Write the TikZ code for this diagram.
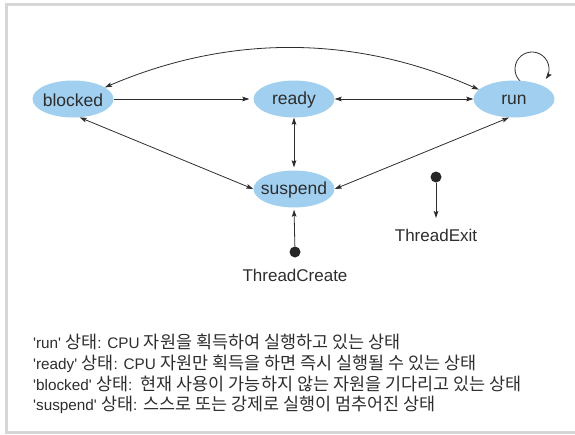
\documentclass[tikz,border=0pt]{standalone}
\usepackage{fontspec}
\setmainfont{Liberation Sans}
\newfontfamily\kr{Noto Sans CJK KR}[Scale=1.14]
\usetikzlibrary{shapes.geometric,arrows.meta}
\definecolor{stfill}{RGB}{160,207,240}
\definecolor{ink}{RGB}{45,45,45}
\definecolor{framegray}{RGB}{214,214,214}
\newcommand{\q}{\textquotesingle}
\begin{document}
\begin{tikzpicture}[x=1pt,y=-1pt,
  state/.style={ellipse,fill=stfill,minimum width=81pt,minimum height=37pt,inner sep=0pt,
    label={[font=\fontsize{17.5}{20}\selectfont,text=ink,inner sep=0pt,yshift=-1pt]center:#1}},
  tip/.tip={Stealth[length=7pt,width=4.6pt,inset=1.2pt]},
  conn/.style={draw=ink,line width=0.8pt,tip-tip},
  oneway/.style={draw=ink,line width=0.8pt,-tip},
  dotnode/.style={circle,fill=black!85,minimum size=11pt,inner sep=0pt},
  lbl/.style={font=\fontsize{17}{20}\selectfont,text=ink,inner sep=0pt},
  note/.style={font=\fontsize{15.3}{20}\selectfont,text=ink,inner sep=0pt,anchor=base west}]
\useasboundingbox (0,0) rectangle (575,434);
\draw[framegray,line width=3pt] (580,4.5) -- (6.5,4.5) -- (6.5,432.8) -- (580,432.8);
% self loop (drawn first, below the ellipse)
\coordinate (loopc) at (532,69);
\draw[oneway] ([shift={(95:17)}]loopc) arc[start angle=95,end angle=396,radius=17];
% states
\node[state=blocked] (blocked) at (73,99) {};
\node[state=ready] (ready) at (294,99) {};
\node[state=run] (run) at (514,99) {};
\node[state=suspend] (suspend) at (294,189) {};
% connectors
\draw[conn] (blocked.20) .. controls +(124,-53) and +(-124,-55) .. (run.165);
\draw[oneway,shorten >=4pt] (blocked) -- (ready);
\draw[conn] (ready) -- (run);
\draw[conn,shorten >=3pt] (ready) -- (suspend);
\draw[conn] (blocked.-70) -- (suspend.west);
\draw[conn] (run.-105) -- (suspend.east);
% create / exit
\node[dotnode] (tc) at (295,252) {};
\draw[oneway,shorten >=2pt] (tc) -- (suspend.south);
\node[lbl] (tclabel) at (295,275) {ThreadCreate};
\node[dotnode] (te) at (436,177) {};
\coordinate (teend) at (436,218);
\draw[oneway] (te) -- (teend);
\node[lbl] (telabel) at (436,235) {ThreadExit};
% notes
\node[note] (n1) at (33,348) {\q run\q\ {\kr 상태}: CPU {\kr 자원을 획득하여 실행하고 있는 상태}};
\node[note] (n2) at (33,369) {\q ready\q\ {\kr 상태}: CPU {\kr 자원만 획득을 하면 즉시 실행될 수 있는 상태}};
\node[note] (n3) at (33,390) {\q blocked\q\ {\kr 상태}:\ \ {\kr 현재 사용이 가능하지 않는 자원을 기다리고 있는 상태}};
\node[note] (n4) at (33,410) {\q suspend\q\ {\kr 상태}: {\kr 스스로 또는 강제로 실행이 멈추어진 상태}};
\end{tikzpicture}
\end{document}
